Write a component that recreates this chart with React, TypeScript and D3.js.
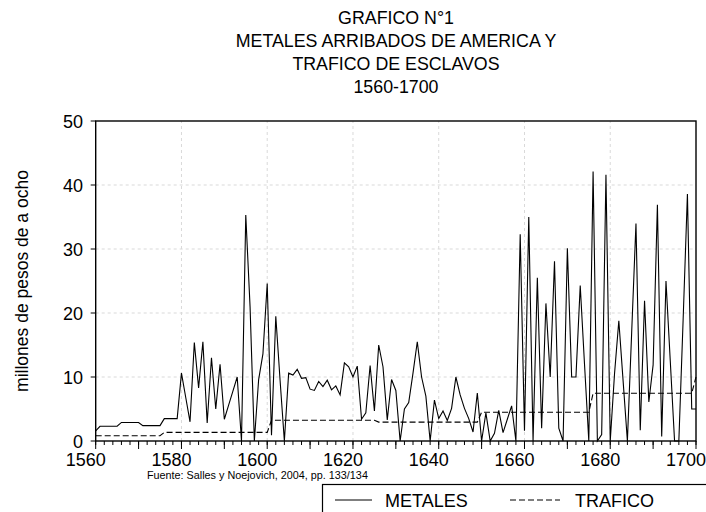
import React from "react";
import * as d3 from "d3";

const years: number[] = d3.range(1560, 1701);

const metales: number[] = [
  1.6, 2.3, 2.3, 2.3, 2.3, 2.3, 2.9, 2.9, 2.9, 2.9,
  2.9, 2.4, 2.4, 2.4, 2.4, 2.4, 3.5, 3.5, 3.5, 3.5,
  10.6, 6.8, 3.0, 15.4, 8.3, 15.5, 2.8, 13.0, 5.0, 12.0,
  3.4, 5.6, 7.8, 10.0, 0, 35.3, 21.0, 0, 9.6, 13.6,
  24.6, 0.9, 19.5, 9.5, 0, 10.6, 10.3, 11.2, 9.8, 9.9,
  8.1, 7.9, 9.3, 8.5, 9.5, 8.0, 8.6, 7.2, 12.2, 11.6,
  10.0, 11.7, 3.4, 4.4, 11.8, 4.7, 15.0, 11.6, 3.3, 9.6,
  7.9, 0, 5.0, 6.0, 10.6, 15.5, 10.0, 7.0, 0, 6.4,
  3.5, 4.7, 3.2, 5.1, 10.0, 7.2, 5.1, 3.5, 1.4, 7.5,
  0, 4.4, 0, 1.2, 4.8, 1.3, 3.4, 5.5, 0, 32.3,
  1.6, 35.0, 0, 25.5, 2.0, 21.5, 10.0, 28.1, 2.0, 0,
  30.1, 10.0, 10.0, 24.3, 12.0, 0, 42.1, 0, 1.0, 41.6,
  0, 10.5, 18.8, 9.4, 0, 17.0, 34.0, 1.7, 21.9, 6.1,
  11.9, 36.9, 0.7, 25.0, 12.5, 0, 0, 19.0, 38.6, 5.0,
  5.0,
];

const traficoSteps: [number, number, number][] = [
  [1560, 1575, 0.83],
  [1576, 1600, 1.35],
  [1601, 1625, 3.25],
  [1626, 1649, 2.95],
  [1650, 1675, 4.5],
  [1676, 1699, 7.45],
  [1700, 1700, 10.0],
];

const trafico: number[] = years.map((yr) => {
  const s = traficoSteps.find((t) => yr >= t[0] && yr <= t[1]);
  return s ? s[2] : 0;
});

const yTicks: number[] = [0, 10, 20, 30, 40, 50];
const xLabels: number[] = [1560, 1580, 1600, 1620, 1640, 1660, 1680, 1700];
const titleLines: string[] = [
  "GRAFICO N°1",
  "METALES ARRIBADOS DE AMERICA Y",
  "TRAFICO DE ESCLAVOS",
  "1560-1700",
];
const yAxisTitle = "millones de pesos de a ocho";
const sourceText = "Fuente: Salles y Noejovich, 2004,  pp. 133/134";
const legendNames: string[] = ["METALES", "TRAFICO"];

const FONT = "'Liberation Sans', Arial, sans-serif";

export default function App() {
  const x = d3.scaleLinear().domain([1560, 1700]).range([95.7, 696]);
  const y = d3.scaleLinear().domain([0, 50]).range([441, 121]);

  const line = d3
    .line<number>()
    .x((_, i) => x(years[i]))
    .y((d) => y(d));

  const minorTicks = d3.range(1560, 1701, 2);
  const majorTicks = d3.range(1560, 1701, 10);
  const gridX = d3.range(1580, 1700, 20);
  const gridY = [10, 20, 30, 40];

  return (
    <div style={{ position: "absolute", left: 0, top: 0 }}>
      <svg width={706} height={512} style={{ display: "block", background: "#fff" }}>
        <rect x={0} y={0} width={706} height={512} fill="#fff" />
        {titleLines.map((t, i) => (
          <text key={t} x={396} y={24 + i * 23} textAnchor="middle" fontFamily={FONT} fontSize={17.8} fill="#000">
            {t}
          </text>
        ))}

        {gridY.map((v) => (
          <line key={"gy" + v} x1={x(1560)} x2={x(1700)} y1={y(v)} y2={y(v)} stroke="#d9d9d9" strokeWidth={1} strokeDasharray="3,3" />
        ))}
        {gridX.map((v) => (
          <line key={"gx" + v} x1={x(v)} x2={x(v)} y1={y(0)} y2={y(50)} stroke="#d9d9d9" strokeWidth={1} strokeDasharray="3,3" />
        ))}

        <path d={line(trafico) || ""} fill="none" stroke="#000" strokeWidth={1.1} strokeDasharray="6,3" />
        <path d={line(metales) || ""} fill="none" stroke="#000" strokeWidth={1.1} strokeLinejoin="miter" />

        <rect x={x(1560)} y={y(50)} width={x(1700) - x(1560)} height={y(0) - y(50)} fill="none" stroke="#000" strokeWidth={1.4} />

        {yTicks.map((v) => (
          <g key={"yt" + v}>
            <line x1={x(1560) - 5} x2={x(1560)} y1={y(v)} y2={y(v)} stroke="#000" strokeWidth={1} />
            <text x={83} y={y(v) + 6.5} textAnchor="end" fontFamily={FONT} fontSize={18} fill="#000">
              {v}
            </text>
          </g>
        ))}

        {minorTicks.map((v) => (
          <line key={"mt" + v} x1={x(v)} x2={x(v)} y1={y(0)} y2={y(0) + 4} stroke="#000" strokeWidth={1} />
        ))}
        {majorTicks.map((v) => (
          <line key={"Mt" + v} x1={x(v)} x2={x(v)} y1={y(0)} y2={y(0) + 8} stroke="#000" strokeWidth={1} />
        ))}
        {xLabels.map((v) => (
          <text key={"xl" + v} x={x(v) - 10} y={466} textAnchor="middle" fontFamily={FONT} fontSize={18} fill="#000">
            {v}
          </text>
        ))}

        <text transform={`translate(28,${(y(0) + y(50)) / 2}) rotate(-90)`} textAnchor="middle" fontFamily={FONT} fontSize={17.5} fill="#000">
          {yAxisTitle}
        </text>

        <text x={147} y={479} fontFamily={FONT} fontSize={10.8} fill="#000">
          {sourceText}
        </text>

        <rect x={322.5} y={484.5} width={385} height={40} fill="none" stroke="#000" strokeWidth={1.2} />
        <line x1={335} x2={372} y1={500} y2={500} stroke="#000" strokeWidth={1.1} />
        <text x={385} y={506.5} fontFamily={FONT} fontSize={18} fill="#000">
          {legendNames[0]}
        </text>
        <line x1={510} x2={560} y1={500} y2={500} stroke="#000" strokeWidth={1.1} strokeDasharray="6,3" />
        <text x={575} y={506.5} fontFamily={FONT} fontSize={18} fill="#000">
          {legendNames[1]}
        </text>
      </svg>
    </div>
  );
}
